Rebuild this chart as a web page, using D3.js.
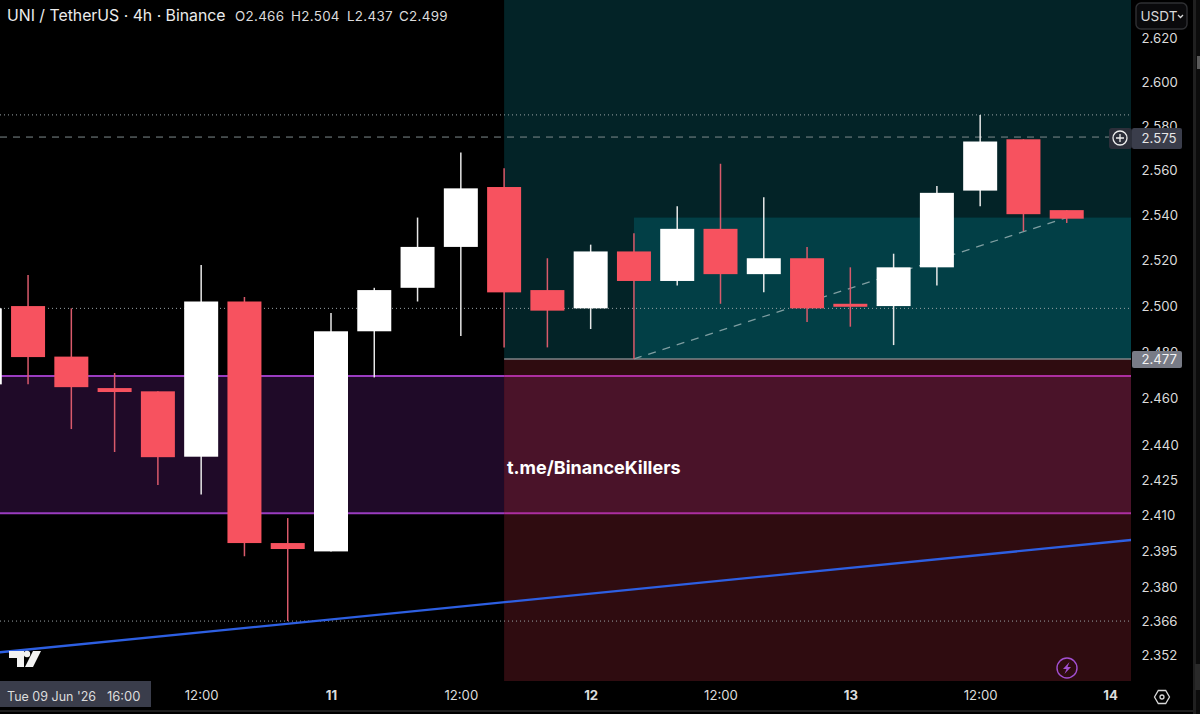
<html>
<head>
<meta charset="utf-8">
<title>UNI / TetherUS 4h</title>
<script src="https://d3js.org/d3.v7.min.js"></script>
<style>
  body { margin: 0; background: #000; overflow: hidden; }
  text { font-family: Inter, Roboto, sans-serif; }
</style>
</head>
<body>
<svg width="1200" height="714"></svg>
<script type="text/javascript">

// 4h candles, first one opens Tue 09 Jun '26 16:00
var firstCandle = "2026-06-09T16:00:00Z";
var opens  = [2.466,2.500,2.478,2.4644,2.463,2.435,2.502,2.3985,2.395,2.489,2.508,2.526,2.5526,2.507,2.499,2.524,2.511,2.534,2.514,2.521,2.501,2.500,2.517,2.551,2.574,2.5423];
var highs  = [2.504,2.5136,2.499,2.4709,2.463,2.518,2.504,2.409,2.497,2.508,2.539,2.568,2.561,2.521,2.527,2.532,2.544,2.563,2.548,2.526,2.517,2.523,2.553,2.585,2.574,2.5423];
var lows   = [2.437,2.4661,2.4468,2.437,2.423,2.419,2.393,2.366,2.395,2.469,2.502,2.487,2.482,2.482,2.490,2.477,2.509,2.501,2.506,2.493,2.491,2.483,2.509,2.544,2.533,2.5366];
var closes = [2.499,2.4778,2.4648,2.4627,2.4348,2.502,2.3985,2.396,2.489,2.507,2.526,2.552,2.506,2.498,2.524,2.511,2.534,2.514,2.521,2.499,2.500,2.517,2.550,2.573,2.5405,2.5385];

var priceTicks = [2.620,2.600,2.580,2.560,2.540,2.520,2.500,2.480,2.460,2.440,2.425,2.410,2.395,2.380,2.366,2.352];
var timeTicks = ["2026-06-10T12:00:00Z","2026-06-11T00:00:00Z","2026-06-11T12:00:00Z","2026-06-12T00:00:00Z","2026-06-12T12:00:00Z","2026-06-13T00:00:00Z","2026-06-13T12:00:00Z","2026-06-14T00:00:00Z"];

// drawn zones and levels
var zoneStart = "2026-06-11T16:00:00Z";
var boxStart = "2026-06-12T04:00:00Z";
var entryLevel = 2.477;
var boxTop = 2.539;
var bandTop = 2.4696;
var bandBottom = 2.411;
var currentLevel = 2.575;
var dottedLevels = [2.585, 2.499, 2.366];
var trendTimes = ["2026-06-12T04:00:00Z","2026-06-13T20:00:00Z"];
var trendPrices = [2.477, 2.539];
var blueTimes = ["2026-06-09T16:00:00Z","2026-06-14T04:00:00Z"];
var bluePrices = [2.3525, 2.4007];

var parse = d => new Date(d);
var fourHours = 4 * 3600 * 1000;

var candles = opens.map((o,i) => ({
  t: new Date(parse(firstCandle).getTime() + i * fourHours),
  o: o, h: highs[i], l: lows[i], c: closes[i]
}));

var paneRight = 1131, paneBottom = 681;

var x = d3.scaleUtc()
  .domain([parse("2026-06-11T00:00:00Z"), parse("2026-06-14T00:00:00Z")])
  .range([331, 1110]);
var y = d3.scaleLog()
  .domain([2.352, 2.62])
  .range([655, 38]);

var svg = d3.select("svg");
svg.append("rect").attr("width",1200).attr("height",714).attr("fill","#000");

svg.append("defs").append("clipPath").attr("id","pane")
  .append("rect").attr("width",paneRight).attr("height",paneBottom);

var pane = svg.append("g").attr("clip-path","url(#pane)");

// zones
var zx = x(parse(zoneStart)), bx = x(parse(boxStart));
pane.append("rect").attr("x",zx).attr("y",0).attr("width",paneRight-zx).attr("height",y(entryLevel)).attr("fill","#032327");
pane.append("rect").attr("x",zx).attr("y",y(entryLevel)).attr("width",paneRight-zx).attr("height",paneBottom-y(entryLevel)).attr("fill","#2f0c10");
pane.append("rect").attr("x",bx).attr("y",y(boxTop)).attr("width",paneRight-bx).attr("height",y(entryLevel)-y(boxTop)).attr("fill","#023f46");
pane.append("rect").attr("x",0).attr("y",y(bandTop)).attr("width",zx).attr("height",y(bandBottom)-y(bandTop)).attr("fill","#1f0a28");
pane.append("rect").attr("x",zx).attr("y",y(bandTop)).attr("width",paneRight-zx).attr("height",y(bandBottom)-y(bandTop)).attr("fill","#4a1329");

[bandTop,bandBottom].forEach(function(b){
  pane.append("line").attr("x1",0).attr("x2",zx).attr("y1",y(b)).attr("y2",y(b))
    .attr("stroke","#9a3cc0").attr("stroke-width",2);
  pane.append("line").attr("x1",zx).attr("x2",paneRight).attr("y1",y(b)).attr("y2",y(b))
    .attr("stroke","#ad2fa0").attr("stroke-width",2);
});

pane.append("line").attr("x1",zx).attr("x2",paneRight).attr("y1",y(entryLevel)).attr("y2",y(entryLevel))
  .attr("stroke","#7f8488").attr("stroke-width",1.5);

pane.selectAll("line.dot").data(dottedLevels).join("line").attr("class","dot")
  .attr("x1",0).attr("x2",paneRight).attr("y1",d=>y(d)).attr("y2",d=>y(d))
  .attr("stroke","#9aa3a6").attr("stroke-dasharray","1 3").attr("stroke-width",1);

pane.append("line").attr("x1",0).attr("x2",paneRight).attr("y1",y(currentLevel)).attr("y2",y(currentLevel))
  .attr("stroke","#7f8a8c").attr("stroke-dasharray","7 6").attr("stroke-width",1);

// blue trend line
var line = d3.line().x((d,i)=>x(parse(blueTimes[i]))).y(d=>y(d));
pane.append("path").attr("d",line(bluePrices)).attr("fill","none").attr("stroke","#2d5fe2").attr("stroke-width",2.3);

// dashed path of the box
var trend = d3.line().x((d,i)=>x(parse(trendTimes[i]))).y(d=>y(d));
pane.append("path").attr("d",trend(trendPrices)).attr("fill","none")
  .attr("stroke","#7f9ea1").attr("stroke-dasharray","8 7").attr("stroke-width",1.3);

// candles
var up = d => d.c >= d.o;
pane.selectAll("line.wick").data(candles).join("line").attr("class","wick")
  .attr("x1",d=>x(d.t)).attr("x2",d=>x(d.t)).attr("y1",d=>y(d.h)).attr("y2",d=>y(d.l))
  .attr("stroke",d=>up(d)?"#e8e8e8":"#d95a6b").attr("stroke-width",1.5);
pane.selectAll("rect.body").data(candles).join("rect").attr("class","body")
  .attr("x",d=>x(d.t)-17).attr("width",34)
  .attr("y",d=>y(Math.max(d.o,d.c)))
  .attr("height",d=>Math.max(3,Math.abs(y(d.o)-y(d.c))))
  .attr("fill",d=>up(d)?"#ffffff":"#f7525f");

// watermark
pane.append("text").attr("x",507).attr("y",474).attr("fill","#fff")
  .attr("font-size",18).attr("font-weight",700).text("t.me/BinanceKillers");

// tv logo
var logo = pane.append("g").attr("transform","translate(9,650)").attr("fill","#f2f2f2");
logo.append("path").attr("d","M0 1H15V17H8V8H0Z");
logo.append("circle").attr("cx",18).attr("cy",4).attr("r",3.2);
logo.append("path").attr("d","M24 1H32L24 17H16Z");

// bolt badge
var bolt = pane.append("g").attr("transform","translate(1067,668)");
bolt.append("circle").attr("r",10).attr("fill","none").attr("stroke","#a24fd0").attr("stroke-width",1.4);
bolt.append("path").attr("d","M2.5 -6L-4 1H-0.5L-2.5 6L4 -1H0.5Z").attr("fill","#a24fd0");

// price axis
var yAxis = d3.axisRight(y).tickValues(priceTicks).tickSize(0).tickPadding(0).tickFormat(d3.format(".3f"));
var gy = svg.append("g").attr("transform","translate(1141.5,0)").call(yAxis);
gy.select(".domain").remove();
gy.selectAll("text").attr("fill","#dcdcdc").attr("font-size",13.2).attr("font-family","Inter, Roboto, sans-serif");

// time axis
var xAxis = d3.axisBottom(x).tickValues(timeTicks.map(parse)).tickSize(0).tickPadding(0)
  .tickFormat(d => d.getUTCHours()==0 ? d3.utcFormat("%-d")(d) : d3.utcFormat("%H:%M")(d));
var gx = svg.append("g").attr("transform","translate(0,691)").call(xAxis);
gx.select(".domain").remove();
gx.selectAll("text").attr("fill","#dcdcdc").attr("font-size",13.2).attr("font-family","Inter, Roboto, sans-serif")
  .attr("font-weight",d=>d.getUTCHours()==0?700:400);

// price labels
svg.append("rect").attr("x",1109).attr("y",128).attr("width",23).attr("height",21).attr("fill","#2c2f3a").attr("rx",3);
svg.append("rect").attr("x",1132).attr("y",128).attr("width",50).attr("height",21).attr("fill","#3a3d4b").attr("rx",2);
svg.append("circle").attr("cx",1120).attr("cy",138).attr("r",7).attr("fill","none").attr("stroke","#eee").attr("stroke-width",1.3);
svg.append("path").attr("d","M1116 138H1124M1120 134V142").attr("stroke","#eee").attr("stroke-width",1.3);
svg.append("text").attr("x",1141.5).attr("y",143).attr("fill","#e6e6e6").attr("font-size",13.2).text(d3.format(".3f")(currentLevel));
svg.append("rect").attr("x",1132).attr("y",351).attr("width",50).attr("height",17).attr("fill","#787b86").attr("rx",2);
svg.append("text").attr("x",1141.5).attr("y",364).attr("fill","#f2f2f2").attr("font-size",13.2).text(d3.format(".3f")(entryLevel));

// usdt button
svg.append("rect").attr("x",1136).attr("y",3).attr("width",51).attr("height",26).attr("rx",5)
  .attr("fill","#0a0a0c").attr("stroke","#2f3033").attr("stroke-width",1.4);
svg.append("text").attr("x",1140.5).attr("y",21).attr("fill","#d8d8d8").attr("font-size",13.6).text("USDT");
svg.append("path").attr("d","M1178 15L1180.5 17.5L1183 15").attr("fill","none").attr("stroke","#d8d8d8").attr("stroke-width",1.3);

// crosshair date label
svg.append("rect").attr("x",0).attr("y",681).attr("width",151).attr("height",26).attr("fill","#3a3d4b");
svg.append("text").attr("x",7).attr("y",701).attr("fill","#dcdcdc").attr("font-size",12.5).text("Tue 09 Jun '26");
svg.append("text").attr("x",107).attr("y",701).attr("fill","#dcdcdc").attr("font-size",13).text("16:00");

// settings hexagon
var gear = svg.append("g").attr("transform","translate(1162,697)");
gear.append("path").attr("d","M-7.5 0L-3.7 -6.5H3.7L7.5 0L3.7 6.5H-3.7Z").attr("fill","none").attr("stroke","#d8d8d8").attr("stroke-width",1.3);
gear.append("circle").attr("r",2).attr("fill","none").attr("stroke","#d8d8d8").attr("stroke-width",1.3);

// title
svg.append("text").attr("x",7).attr("y",21).attr("fill","#ececec").attr("font-size",15.8).text("UNI / TetherUS · 4h · Binance");
[["O",opens[0],235],["H",highs[0],291],["L",lows[0],347],["C",closes[0],399]].forEach(function(p){
  svg.append("text").attr("x",p[2]).attr("y",20.5).attr("fill","#dcdcdc").attr("font-size",13.4)
    .attr("letter-spacing",0.3).text(p[0] + p[1].toFixed(3));
});

// window edges of the screenshot
svg.append("rect").attr("x",1193).attr("y",0).attr("width",7).attr("height",714).attr("fill","#0c0c0c");
svg.append("rect").attr("x",1193).attr("y",0).attr("width",3).attr("height",714).attr("fill","#202020");
svg.append("rect").attr("x",1197).attr("y",56).attr("width",3).attr("height",13).attr("fill","#5a5a5a");
svg.append("rect").attr("x",1195).attr("y",664).attr("width",5).attr("height",26).attr("fill","#2a2a2a");
svg.append("rect").attr("x",0).attr("y",710).attr("width",1193).attr("height",2).attr("fill","#1f1f1f");

</script>
</body>
</html>
